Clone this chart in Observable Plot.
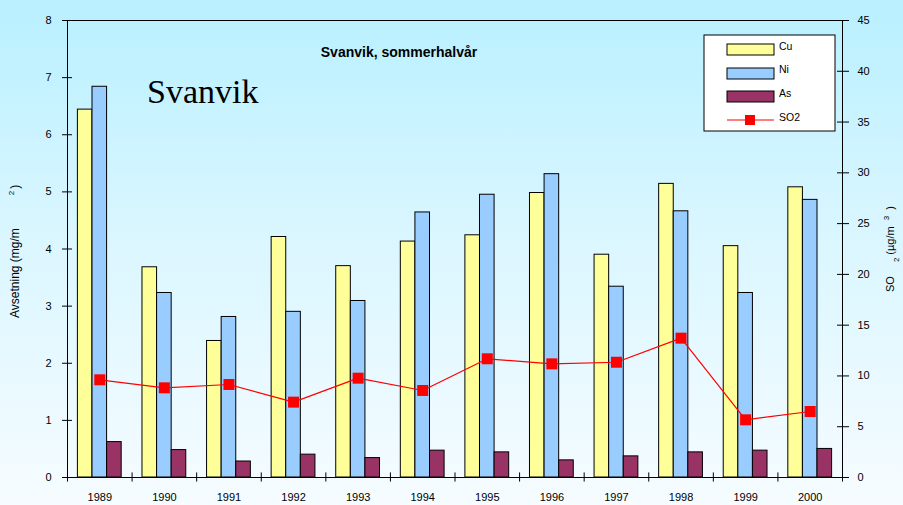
<!DOCTYPE html>
<html><head><meta charset="utf-8">
<script src="https://cdn.jsdelivr.net/npm/d3@7"></script>
<script src="https://cdn.jsdelivr.net/npm/@observablehq/plot@0.6"></script>
<style>
html,body{margin:0;padding:0;width:903px;height:505px;overflow:hidden;}
body{background:linear-gradient(to bottom,#b8f0ff 0%,#d9f6ff 45%,#f6fcff 100%);}
</style>
</head><body><div id="chart"></div>
<script>
const years = ["1989","1990","1991","1992","1993","1994","1995","1996","1997","1998","1999","2000"];
const cu  = [6.44, 3.68, 2.39, 4.21, 3.70, 4.13, 4.24, 4.98, 3.90, 5.14, 4.05, 5.08];
const ni  = [6.84, 3.23, 2.81, 2.90, 3.09, 4.64, 4.95, 5.31, 3.34, 4.66, 3.23, 4.86];
const as  = [0.62, 0.48, 0.28, 0.40, 0.34, 0.47, 0.44, 0.30, 0.37, 0.44, 0.47, 0.50];
const so2 = [9.62, 8.83, 9.16, 7.42, 9.78, 8.57, 11.69, 11.19, 11.35, 13.72, 5.68, 6.50];
const leftTicks  = [0,1,2,3,4,5,6,7,8];
const rightTicks = [0,5,10,15,20,25,30,35,40,45];
const seriesNames = ["Cu","Ni","As","SO2"];
const seriesColors = ["#ffff99","#99ccff","#993366","#ff0000"];

const W = 903, H = 505, mL = 67, mR = 61, mT = 20, mB = 28;
const step = (W - mL - mR) / years.length;
const pad = 0.774;
const bw = step * (1 - pad);
const k = 8 / 45; // SO2 -> left scale

const rows = vals => years.map((y, i) => ({year: y, value: vals[i]}));
const font = "'Liberation Sans', Arial, sans-serif";

const svg = Plot.plot({
  width: W, height: H,
  marginLeft: mL, marginRight: mR, marginTop: mT, marginBottom: mB,
  style: {background: "transparent", fontFamily: font, fontSize: "11px", color: "#000"},
  x: {type: "band", domain: years, paddingInner: pad, paddingOuter: pad / 2, round: false, label: null},
  y: {domain: [0, 8], label: null},
  marks: [
    Plot.barY(rows(cu), {x: "year", y: "value", fill: seriesColors[0], stroke: "#000", strokeWidth: 1, dx: -bw}),
    Plot.barY(rows(ni), {x: "year", y: "value", fill: seriesColors[1], stroke: "#000", strokeWidth: 1}),
    Plot.barY(rows(as), {x: "year", y: "value", fill: seriesColors[2], stroke: "#000", strokeWidth: 1, dx: bw}),
    Plot.frame({stroke: "#000", strokeWidth: 1}),
    Plot.line(rows(so2), {x: "year", y: d => d.value * k, stroke: seriesColors[3], strokeWidth: 1.2}),
    Plot.dot(rows(so2), {x: "year", y: d => d.value * k, symbol: "square", r: 6.2, fill: seriesColors[3], stroke: "none"}),
    Plot.axisX({tickSize: 0, tickPadding: 16, label: null, fontSize: 11}),
    Plot.ruleX(years, {x: d => d, y1: -0.08, y2: 0.08, dx: -step / 2, stroke: "#000", clip: false}),
    Plot.ruleX([years[years.length - 1]], {x: d => d, y1: -0.08, y2: 0.08, dx: step / 2, stroke: "#000", clip: false}),
    Plot.axisY({ticks: leftTicks, tickSize: 10, dx: 5, tickPadding: 11, label: null, fontSize: 11}),
    Plot.axisY({anchor: "right", ticks: rightTicks.map(v => v * k), tickFormat: d => Math.round(d / k),
                tickSize: 12, dx: -6, tickPadding: 9, label: null, fontSize: 11})
  ]
});

const s = d3.select(svg);

// Titles
s.append("text").attr("x", 399).attr("y", 57).attr("text-anchor", "middle")
  .attr("font-family", font).attr("font-weight", "bold").attr("font-size", 14).attr("fill", "#000")
  .text("Svanvik, sommerhalvår");
s.append("text").attr("x", 147).attr("y", 103).attr("text-anchor", "start")
  .attr("font-family", "'Liberation Serif', 'Times New Roman', serif").attr("font-size", 34).attr("fill", "#000")
  .text("Svanvik");

// Left axis title
const lt = s.append("text").attr("transform", "translate(19,318) rotate(-90)").attr("text-anchor", "start")
  .attr("font-family", font).attr("font-size", 12).attr("fill", "#000");
lt.append("tspan").text("Avsetning (mg/m");
lt.append("tspan").attr("dx", 33).attr("dy", -5).attr("font-size", 8).text("2");
lt.append("tspan").attr("dx", 2).attr("dy", 5).text(")");

// Right axis title
const rt = s.append("text").attr("transform", "translate(894,292) rotate(-90)").attr("text-anchor", "start")
  .attr("font-family", font).attr("font-size", 11).attr("fill", "#000");
rt.append("tspan").text("SO");
rt.append("tspan").attr("dx", 14).attr("dy", 5).attr("font-size", 8).text("2");
rt.append("tspan").attr("dx", 3).attr("dy", -5).text("(µg/m");
rt.append("tspan").attr("dx", 6).attr("dy", -5).attr("font-size", 8).text("3");
rt.append("tspan").attr("dx", 6).attr("dy", 5).text(")");

// Legend
const lg = s.append("g").attr("font-family", font).attr("font-size", 10.5).attr("text-anchor", "start");
lg.append("rect").attr("x", 704).attr("y", 35).attr("width", 131).attr("height", 96)
  .attr("fill", "#fff").attr("stroke", "#000");
const swY = [44, 68, 91];
const txY = [50, 73, 97, 120.5];
seriesNames.forEach((name, i) => {
  if (i < 3) {
    lg.append("rect").attr("x", 727).attr("y", swY[i]).attr("width", 47).attr("height", 11)
      .attr("fill", seriesColors[i]).attr("stroke", "#000");
  } else {
    lg.append("line").attr("x1", 727).attr("x2", 774).attr("y1", 120).attr("y2", 120)
      .attr("stroke", seriesColors[i]).attr("stroke-width", 1);
    lg.append("rect").attr("x", 745).attr("y", 115).attr("width", 10).attr("height", 10)
      .attr("fill", seriesColors[i]);
  }
  lg.append("text").attr("x", 779).attr("y", txY[i]).attr("fill", "#000").text(name);
});

document.getElementById("chart").appendChild(svg);
</script>
</body></html>
